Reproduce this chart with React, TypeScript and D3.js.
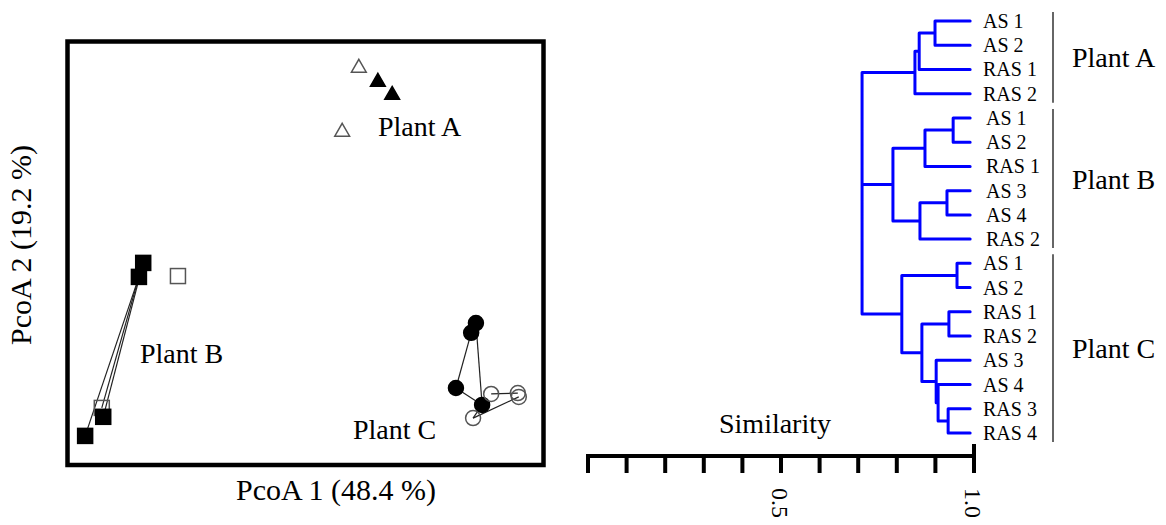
import * as d3 from "d3";

// PCoA scores (PcoA 1, PcoA 2), filled = 1 for solid marker
const plantA = [
  [0.111, 0.439, 0],
  [0.151, 0.406, 1],
  [0.181, 0.375, 1],
  [0.076, 0.288, 0],
];
const plantB = [
  [-0.342, -0.021, 1],
  [-0.351, -0.054, 1],
  [-0.269, -0.052, 0],
  [-0.429, -0.363, 0],
  [-0.426, -0.384, 1],
  [-0.464, -0.429, 1],
];
const plantC = [
  [0.357, -0.163, 1],
  [0.347, -0.186, 1],
  [0.315, -0.316, 1],
  [0.37, -0.356, 1],
  [0.389, -0.33, 0],
  [0.445, -0.328, 0],
  [0.447, -0.337, 0],
  [0.351, -0.387, 0],
];
const plantBLinks = [[1, 5], [1, 3], [0, 4]];
const plantCLinks = [[1, 2], [2, 3], [0, 3], [4, 5], [7, 6], [3, 7]];

// dendrogram
const leafLabels = [
  "AS 1", "AS 2", "RAS 1", "RAS 2",
  "AS 1", "AS 2", "RAS 1", "AS 3", "AS 4", "RAS 2",
  "AS 1", "AS 2", "RAS 1", "RAS 2", "AS 3", "AS 4", "RAS 3", "RAS 4",
];
const leafSim = 0.99;
const treeA = { sim: 0.847, children: [{ sim: 0.858, children: [{ sim: 0.899, children: [0, 1] }, 2] }, 3] };
const treeB = {
  sim: 0.79,
  children: [
    { sim: 0.873, children: [{ sim: 0.946, children: [4, 5] }, 6] },
    { sim: 0.86, children: [{ sim: 0.93, children: [7, 8] }, 9] },
  ],
};
const treeC = {
  sim: 0.813,
  children: [
    { sim: 0.956, children: [10, 11] },
    {
      sim: 0.865,
      children: [
        { sim: 0.935, children: [12, 13] },
        { sim: 0.902, children: [14, { sim: 0.907, children: [15, { sim: 0.933, children: [16, 17] }] }] },
      ],
    },
  ],
};
const rootSim = 0.71;
const groups = [
  { name: "Plant A", from: 0, to: 3 },
  { name: "Plant B", from: 4, to: 9 },
  { name: "Plant C", from: 10, to: 17 },
];
const simTicks = d3.range(0, 11).map((i) => i / 10);
const simTickLabels = [0.5, 1.0];

const serif = "'Liberation Serif', 'Times New Roman', serif";

function toNode(n: any): any {
  if (typeof n === "number") return { leaf: n, sim: leafSim };
  return { sim: n.sim, children: n.children.map(toNode) };
}

export default function App() {
  const x = d3.scaleLinear().domain([-0.5, 0.5]).range([68, 544]);
  const y = d3.scaleLinear().domain([-0.5, 0.5]).range([466, 42]);

  const sx = d3.scaleLinear().domain([0, 1]).range([588, 974]);
  const ly = d3.scalePoint<number>().domain(d3.range(leafLabels.length)).range([21, 433]);

  const root = d3.hierarchy(toNode({ sim: rootSim, children: [treeA, treeB, treeC] }));
  root.eachAfter((n: any) => {
    if (!n.children) n.py = ly(n.data.leaf);
    else n.py = (n.children[0].py + n.children[n.children.length - 1].py) / 2;
  });
  const segs: string[] = [];
  root.each((n: any) => {
    if (!n.children) return;
    const nx = sx(n.data.sim);
    const first = n.children[0].py;
    const last = n.children[n.children.length - 1].py;
    segs.push(`M${nx},${first}V${last}`);
    n.children.forEach((c: any) => segs.push(`M${nx},${c.py}H${sx(c.data.sim)}`));
  });

  const tri = d3.symbol(d3.symbolTriangle, 95)();

  const openStroke = "#555";

  const links = (pts: number[][], lk: number[][]) =>
    lk.map(([a, b], i) => (
      <line key={i} x1={x(pts[a][0])} y1={y(pts[a][1])} x2={x(pts[b][0])} y2={y(pts[b][1])}
        stroke="#222" strokeWidth={1.2} />
    ));

  return (
    <svg width={1166} height={525} style={{ position: "absolute", left: 0, top: 0, background: "#fff" }}
      fontFamily={serif}>
      {/* PCoA panel */}
      <rect x={67.5} y={41.5} width={476} height={423.5} fill="none" stroke="#000" strokeWidth={4.5} />
      {links(plantB, plantBLinks)}
      {links(plantC, plantCLinks)}
      {plantA.map((p, i) => (
        <path key={i} d={tri!} transform={`translate(${x(p[0])},${y(p[1])})`}
          fill={p[2] ? "#000" : "#fff"} stroke={p[2] ? "#000" : openStroke} strokeWidth={1.5} />
      ))}
      {plantB.map((p, i) => (
        <rect key={i} x={x(p[0]) - 7.5} y={y(p[1]) - 7.5} width={15} height={15}
          fill={p[2] ? "#000" : "none"} stroke={p[2] ? "#000" : openStroke} strokeWidth={1.5} />
      ))}
      {plantC.map((p, i) => (
        <circle key={i} cx={x(p[0])} cy={y(p[1])} r={7.5}
          fill={p[2] ? "#000" : "none"} stroke={p[2] ? "#000" : openStroke} strokeWidth={1.5} />
      ))}
      <text x={378} y={136} fontSize={28}>Plant A</text>
      <text x={140} y={363} fontSize={28}>Plant B</text>
      <text x={353} y={439} fontSize={28}>Plant C</text>
      <text x={336} y={500} fontSize={30} textAnchor="middle">PcoA 1 (48.4 %)</text>
      <text transform="translate(31,245) rotate(-90)" fontSize={30} textAnchor="middle">PcoA 2 (19.2 %)</text>

      {/* dendrogram */}
      <path d={segs.join("")} fill="none" stroke="#0000ff" strokeWidth={3} strokeLinejoin="round" strokeLinecap="round" />
      {leafLabels.map((l, i) => (
        <text key={i} x={i >= 4 && i <= 9 ? 986 : 983} y={(ly(i) as number) + 7} fontSize={20}>{l}</text>
      ))}
      {groups.map((g) => (
        <g key={g.name}>
          <line x1={1053} x2={1053} y1={(ly(g.from) as number) - 9} y2={(ly(g.to) as number) + 9}
            stroke="#333" strokeWidth={1.5} />
          <text x={1072} y={((ly(g.from) as number) + (ly(g.to) as number)) / 2 + 10} fontSize={28}>{g.name}</text>
        </g>
      ))}

      {/* similarity axis */}
      <text x={775} y={433} fontSize={28} textAnchor="middle">Similarity</text>
      <line x1={sx(0) - 2} x2={sx(1) + 2} y1={456} y2={456} stroke="#000" strokeWidth={4} />
      {simTicks.map((t) => (
        <line key={t} x1={sx(t)} x2={sx(t)} y1={t === 1 ? 444 : 456} y2={473} stroke="#000" strokeWidth={4} />
      ))}
      {simTickLabels.map((t) => (
        <text key={t} transform={`translate(${sx(t) - 9},488) rotate(90)`} fontSize={24}>{t.toFixed(1)}</text>
      ))}
    </svg>
  );
}
